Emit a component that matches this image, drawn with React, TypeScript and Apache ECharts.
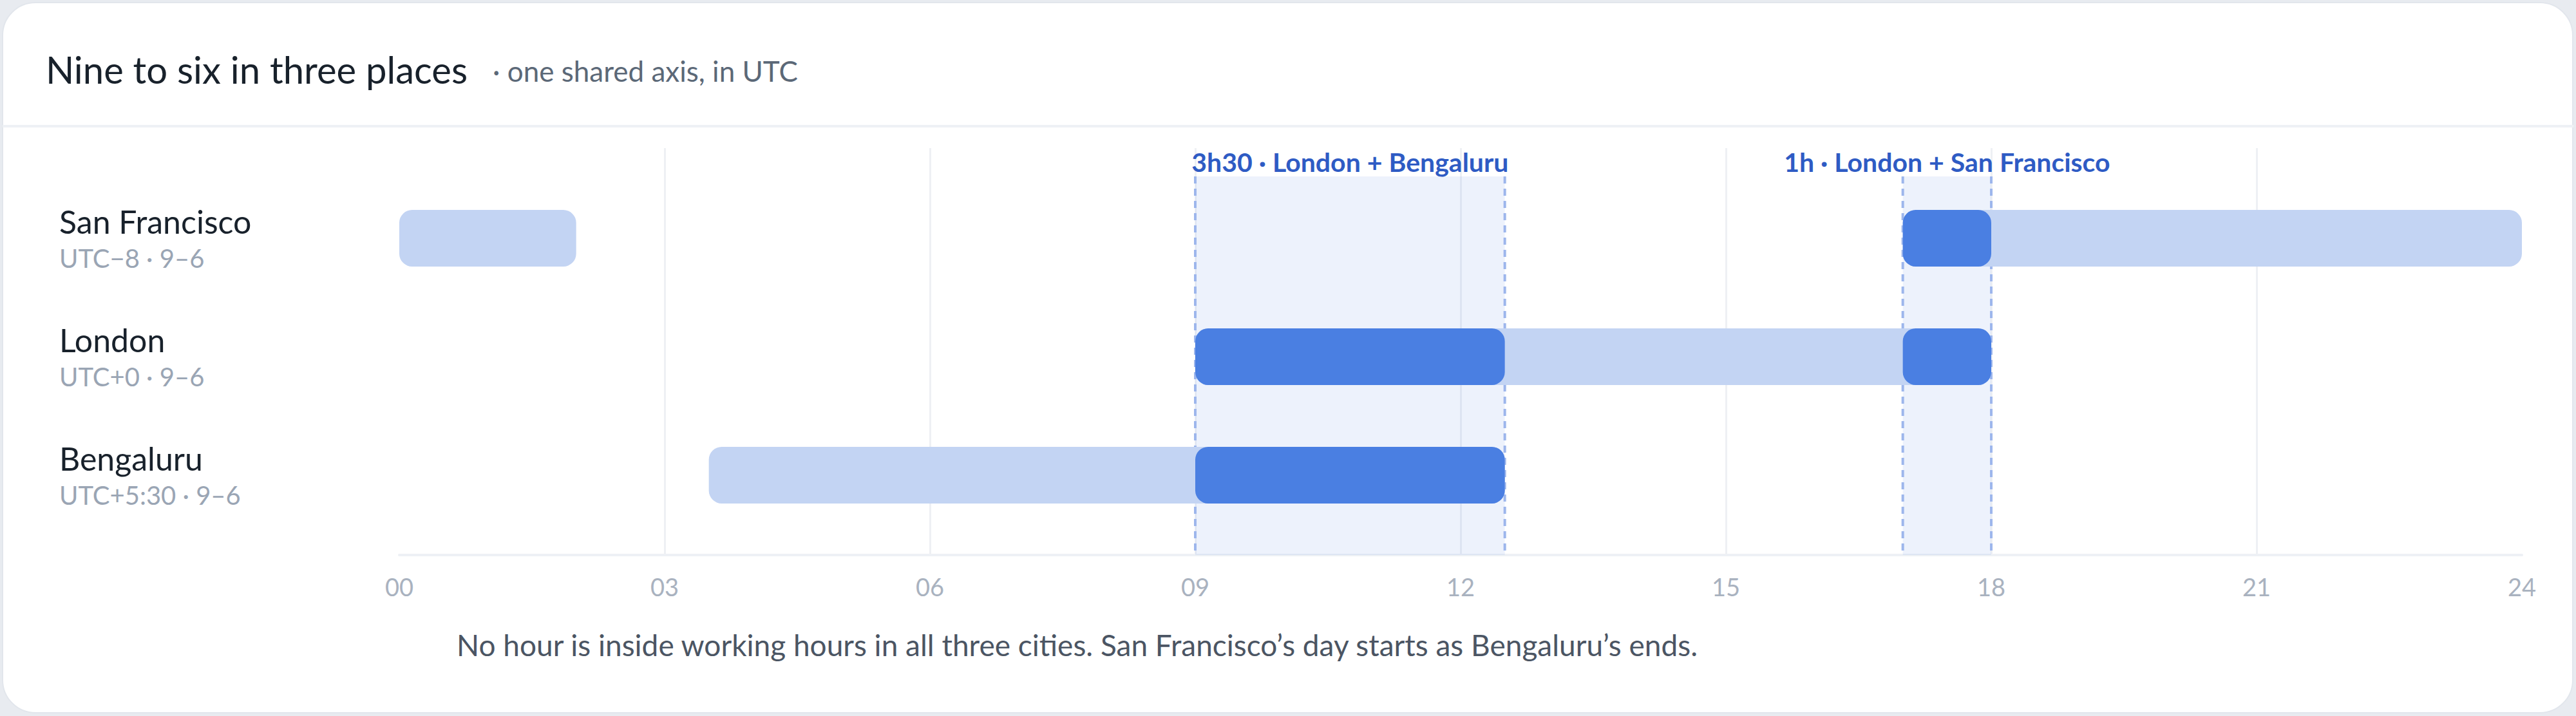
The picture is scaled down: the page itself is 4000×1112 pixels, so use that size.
import React, { useEffect, useRef } from "react";
import * as echarts from "echarts";

const CITIES = ["San Francisco", "London", "Bengaluru"];
const CITY_SUB = ["UTC−8 · 9–6", "UTC+0 · 9–6", "UTC+5:30 · 9–6"];

// Working hours in UTC (light bars)
const SHIFT_ROW = [0, 0, 1, 2];
const SHIFT_START = [0, 17, 9, 3.5];
const SHIFT_END = [2, 24, 18, 12.5];

// Overlap hours in UTC (dark bars)
const OVERLAP_ROW = [0, 1, 1, 2];
const OVERLAP_START = [17, 9, 17, 9];
const OVERLAP_END = [18, 12.5, 18, 12.5];

// Highlighted overlap windows
const BAND_START = [9, 17];
const BAND_END = [12.5, 18];
const BAND_LABEL = ["3h30 · London + Bengaluru", "1h · London + San Francisco"];

const HOUR_TICKS = ["00", "03", "06", "09", "12", "15", "18", "21", "24"];

const TITLE = "Nine to six in three places";
const SUBTITLE = "· one shared axis, in UTC";
const FOOTNOTE =
  "No hour is inside working hours in all three cities. San Francisco’s day starts as Bengaluru’s ends.";

const FONT = 'Lato, "Noto Sans", sans-serif';

export default function App() {
  const ref = useRef<HTMLDivElement>(null);

  useEffect(() => {
    document.body.style.margin = "0";
    document.body.style.overflow = "hidden";
    if (!ref.current) return;
    const chart = echarts.init(ref.current, undefined, { renderer: "svg" });

    const shiftData = SHIFT_ROW.map((r, i) => [r, SHIFT_START[i], SHIFT_END[i]]);
    const overlapData = OVERLAP_ROW.map((r, i) => [r, OVERLAP_START[i], OVERLAP_END[i]]);
    const bandData = BAND_START.map((s, i) => [s, BAND_END[i], i]);
    const labelData = CITIES.map((_, i) => [0, i, i]);

    const barItem = (fill: string) => (params: any, api: any) => {
      const row = api.value(0);
      const p0 = api.coord([api.value(1), row]);
      const p1 = api.coord([api.value(2), row]);
      const h = api.size([0, 1])[1] * 0.478;
      return {
        type: "rect",
        shape: { x: p0[0], y: p0[1] - h / 2, width: p1[0] - p0[0], height: h, r: 20 },
        style: { fill },
      };
    };

    const option: any = {
      animation: false,
      grid: { left: 620, right: 84, top: 230, bottom: 250 },
      xAxis: {
        type: "value",
        min: 0,
        max: 24,
        interval: 3,
        axisLine: { show: true, onZero: false, lineStyle: { color: "#eef1f5", width: 4 } },
        axisTick: { show: false },
        axisLabel: {
          color: "#a9b2bf",
          fontSize: 38,
          fontFamily: FONT,
          margin: 30,
          formatter: (v: number) => HOUR_TICKS[Math.round(v / 3)] ?? "",
        },
        splitLine: {
          show: true,
          showMinLine: false,
          showMaxLine: false,
          lineStyle: { color: "#eef0f4", width: 3 },
        },
      },
      yAxis: {
        type: "value",
        inverse: true,
        min: -0.7609,
        max: 2.674,
        show: false,
        axisLine: { show: false },
        splitLine: { show: false },
      },
      graphic: [
        {
          type: "line",
          shape: { x1: 4, y1: 196, x2: 3996, y2: 196 },
          style: { stroke: "#eef1f5", lineWidth: 4 },
        },
        {
          type: "text",
          x: 71,
          y: 107,
          style: {
            text: TITLE,
            fill: "#18212b",
            font: `58px ${FONT}`,
            textAlign: "left",
            textVerticalAlign: "middle",
          },
        },
        {
          type: "text",
          x: 765,
          y: 110,
          style: {
            text: SUBTITLE,
            fill: "#5b6877",
            font: `44px ${FONT}`,
            textAlign: "left",
            textVerticalAlign: "middle",
          },
        },
        {
          type: "text",
          x: 709,
          y: 1001,
          style: {
            text: FOOTNOTE,
            fill: "#4b5563",
            font: `46px ${FONT}`,
            textAlign: "left",
            textVerticalAlign: "middle",
          },
        },
      ],
      series: [
        {
          type: "custom",
          name: "bands",
          data: bandData,
          encode: { x: [0, 1] },
          z: 1,
          renderItem: (params: any, api: any) => {
            const x0 = api.coord([api.value(0), 0])[0];
            const x1 = api.coord([api.value(1), 0])[0];
            const cs = params.coordSys;
            const top = cs.y + 44;
            const bottom = cs.y + cs.height;
            const idx = api.value(2);
            const dash = { stroke: "#9db6ec", lineWidth: 4, lineDash: [11, 8] };
            return {
              type: "group",
              children: [
                {
                  type: "rect",
                  shape: { x: x0, y: top, width: x1 - x0, height: bottom - top },
                  style: { fill: "rgba(74,127,226,0.1)" },
                },
                { type: "line", shape: { x1: x0, y1: top, x2: x0, y2: bottom }, style: dash },
                { type: "line", shape: { x1: x1, y1: top, x2: x1, y2: bottom }, style: dash },
                {
                  type: "text",
                  x: (x0 + x1) / 2,
                  y: top - 23,
                  style: {
                    text: BAND_LABEL[idx],
                    fill: "#2e5bc4",
                    font: `bold 41px ${FONT}`,
                    textAlign: "center",
                    textVerticalAlign: "middle",
                    align: "center",
                    verticalAlign: "middle",
                  },
                },
              ],
            };
          },
        },
        {
          type: "custom",
          name: "working hours",
          data: shiftData,
          encode: { x: [1, 2], y: 0 },
          z: 2,
          renderItem: barItem("#c3d4f3"),
        },
        {
          type: "custom",
          name: "overlap",
          data: overlapData,
          encode: { x: [1, 2], y: 0 },
          z: 3,
          renderItem: barItem("#4a7fe2"),
        },
        {
          type: "custom",
          name: "labels",
          data: labelData,
          encode: { x: 0, y: 1 },
          z: 3,
          clip: false,
          renderItem: (params: any, api: any) => {
            const i = api.value(2);
            const p = api.coord([0, api.value(1)]);
            return {
              type: "group",
              children: [
                {
                  type: "text",
                  x: 92,
                  y: p[1] - 26,
                  style: {
                    text: CITIES[i],
                    fill: "#18212b",
                    font: `50px ${FONT}`,
                    textAlign: "left",
                    textVerticalAlign: "middle",
                    align: "left",
                    verticalAlign: "middle",
                  },
                },
                {
                  type: "text",
                  x: 92,
                  y: p[1] + 31,
                  style: {
                    text: CITY_SUB[i],
                    fill: "#9aa5b4",
                    font: `40px ${FONT}`,
                    textAlign: "left",
                    textVerticalAlign: "middle",
                    align: "left",
                    verticalAlign: "middle",
                  },
                },
              ],
            };
          },
        },
      ],
    };

    chart.setOption(option);
    return () => chart.dispose();
  }, []);

  return (
    <div style={{ position: "relative", width: 4000, height: 1112, background: "#e8ebf0", overflow: "hidden" }}>
      <div
        style={{
          position: "absolute",
          left: 3,
          top: 3,
          width: 3993,
          height: 1105,
          background: "#ffffff",
          borderRadius: 52,
          border: "2px solid #e2e6ec",
          boxSizing: "border-box",
        }}
      />
      <div ref={ref} style={{ position: "absolute", left: 0, top: 0, width: 4000, height: 1112 }} />
    </div>
  );
}
